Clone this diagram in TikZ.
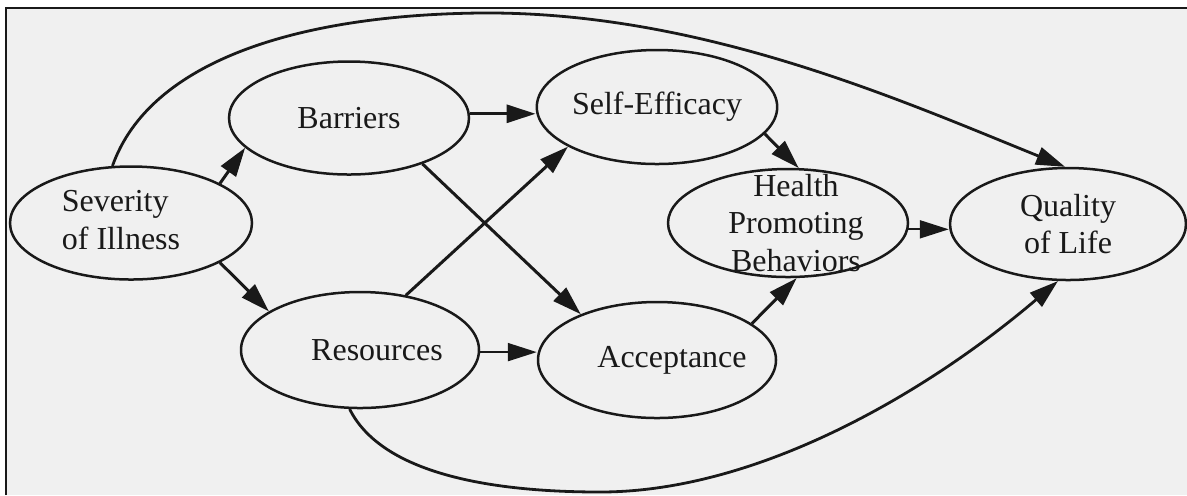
\documentclass[tikz,border=0pt]{standalone}
\usepackage{fontspec}
\setmainfont{Liberation Serif}
\usetikzlibrary{arrows.meta,shapes.geometric}
\definecolor{paper}{RGB}{240,240,240}
\definecolor{ink}{RGB}{25,25,25}

\begin{document}
\begin{tikzpicture}[->,>={Triangle[length=14.5pt,width=9pt]},line width=1.5pt,
                    x=0.5pt,y=-0.5pt,color=ink]
	\tikzstyle{var}=[ellipse, draw, line width=1.25pt, inner sep=0pt,
	                 font=\fontsize{16}{18.8}\selectfont]

	\useasboundingbox (0,0) rectangle (1187,495);
	\fill[paper] (6,7.5) rectangle (1187,495);
	\draw[-,line width=1pt] (6,495) |- (1187,7.5);

	\node[var, minimum width=121pt, minimum height=56.5pt] (sev) at (131,223)
	  {\makebox[0pt]{\kern-10pt\begin{tabular}{@{}l@{}}Severity\\of Illness\end{tabular}}};
	\node[var, minimum width=120pt, minimum height=56.5pt] (bar) at (349,118) {Barriers};
	\node[var, minimum width=119pt, minimum height=58pt]   (res) at (360,350) {\makebox[0pt]{\kern17pt Resources}};
	\node[var, minimum width=119pt, minimum height=57pt]   (se)  at (657,107) {Self-Efficacy};
	\node[var, minimum width=119pt, minimum height=58pt]   (acc) at (657,360) {\makebox[0pt]{\kern15pt Acceptance}};
	\node[var, minimum width=120pt, minimum height=54pt]   (hpb) at (788,223)
	  {\makebox[0pt]{\kern8pt\smash{\raisebox{-6pt}{\begin{tabular}{@{}c@{}}Health\\Promoting\\Behaviors\end{tabular}}}}};
	\node[var, minimum width=118pt, minimum height=56pt, align=center] (qol) at (1068,224) {Quality\\of Life};

	\coordinate (ttop) at (480,13);
	\coordinate (tbot) at (600,492);

	\path (sev.24)    edge (bar.196)
	      (sev.-24)   edge (res.157)
	      (bar.2.5)   edge (bar.2.5 -| se.west)
	      (bar.-32)   edge (acc.149)
	      (res.50)    edge (se.204)
	      (se.-14)    edge (hpb.79)
	      (acc.21)    edge (hpb.-81);
	\path[line width=1pt]
	      (res.-1.5)  edge (res.-1.5 -| acc.west)
	      (hpb.-3)    edge (hpb.-3 -| qol.west);

	\draw[line width=1.4pt] (sev.108) .. controls (150,60) and (300,15) .. (ttop)
	      .. controls (700,11) and (900,100) .. (qol.93);
	\draw[line width=1.4pt] (res.-100) .. controls (380,470) and (480,492) .. (tbot)
	      .. controls (760,492) and (930,390) .. (qol.260);
\end{tikzpicture}
\end{document}
